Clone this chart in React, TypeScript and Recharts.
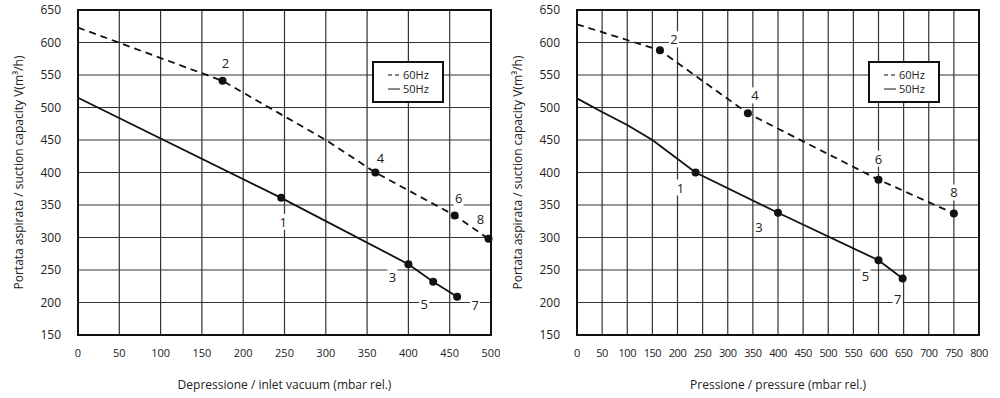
import React from "react";
import {
  LineChart,
  Line,
  XAxis,
  YAxis,
  CartesianGrid,
  ReferenceArea,
  Legend,
} from "recharts";

// axis ticks
const Y_TICKS = [150, 200, 250, 300, 350, 400, 450, 500, 550, 600, 650];
const VAC_TICKS = [0, 50, 100, 150, 200, 250, 300, 350, 400, 450, 500];
const PRS_TICKS = [0, 50, 100, 150, 200, 250, 300, 350, 400, 450, 500, 550, 600, 650, 700, 750, 800];

// left: inlet vacuum
const VAC_X_60 = [0, 175, 300, 360, 456, 497];
const VAC_Y_60 = [623, 541, 450, 400, 334, 298];
const VAC_LBL_60 = ["", "2", "", "4", "6", "8"];
const VAC_X_50 = [0, 246, 400, 430, 459];
const VAC_Y_50 = [515, 361, 259, 232, 209];
const VAC_LBL_50 = ["", "1", "3", "5", "7"];

// right: pressure
const PRS_X_60 = [0, 165, 340, 600, 750];
const PRS_Y_60 = [628, 588, 491, 389, 337];
const PRS_LBL_60 = ["", "2", "4", "6", "8"];
const PRS_X_50 = [0, 50, 100, 150, 236, 400, 600, 648];
const PRS_Y_50 = [514, 493, 473, 450, 400, 338, 265, 237];
const PRS_LBL_50 = ["", "", "", "", "1", "3", "5", "7"];

const Y_TITLE = "Portata aspirata / suction capacity V(m³/h)";
const LEGEND_ORDER = ["60Hz", "50Hz"];

// label offsets from the dot (px)
const VAC_OFFSETS: Record<string, number[]> = {
  "1": [2, 24], "2": [3, -18], "3": [-16, 13], "4": [5, -15],
  "5": [-9, 22], "6": [4, -17], "7": [18, 8], "8": [-8, -20],
};
const PRS_OFFSETS: Record<string, number[]> = {
  "1": [-15, 15], "2": [14, -11], "3": [-19, 14], "4": [7, -18],
  "5": [-13, 16], "6": [0, -21], "7": [-5, 21], "8": [0, -21],
};

const DASH: Record<string, string | undefined> = { "60Hz": "4 3", "50Hz": undefined };
const INK = "#111";

const rows = (xs: number[], ys: number[], lbls: string[]) =>
  xs.map((x, i) => ({ x, y: ys[i], label: lbls[i] }));

const makeDot = (offsets: Record<string, number[]>) => (props: any) => {
  const { cx, cy, payload, index } = props;
  if (!payload.label) return <g key={index} />;
  const [dx, dy] = offsets[payload.label];
  return (
    <g key={index}>
      <circle cx={cx} cy={cy} r={4} fill={INK} />
      <rect x={cx + dx - 5} y={cy + dy - 8} width={10} height={16} fill="#fff" />
      <text
        x={cx + dx}
        y={cy + dy}
        textAnchor="middle"
        dominantBaseline="central"
        fontSize={13}
        fill="#222"
      >
        {payload.label}
      </text>
    </g>
  );
};

const LegendBox = ({ payload }: any) => {
  const items = [...(payload || [])].sort(
    (a: any, b: any) => LEGEND_ORDER.indexOf(a.value) - LEGEND_ORDER.indexOf(b.value)
  );
  return (
    <div
      style={{
        border: "2px solid #111",
        background: "#fff",
        width: 72,
        height: 42,
        boxSizing: "border-box",
        display: "flex",
        flexDirection: "column",
        justifyContent: "center",
        paddingLeft: 14,
        fontSize: 11,
        lineHeight: "14px",
        color: "#222",
      }}
    >
      {items.map((p: any) => (
        <div key={p.value} style={{ display: "flex", alignItems: "center" }}>
          <svg width={15} height={8}>
            <line x1={0} y1={4} x2={12} y2={4} stroke={INK} strokeWidth={1} strokeDasharray={DASH[p.value]} />
          </svg>
          <span>{p.value}</span>
        </div>
      ))}
    </div>
  );
};

function Panel(props: {
  xMax: number;
  xTicks: number[];
  xTitle: string;
  data60: any[];
  data50: any[];
  offsets: Record<string, number[]>;
  margin: any;
  xTickStyle: any;
  legendLeft: number;
}) {
  const dot = makeDot(props.offsets);
  return (
    <LineChart width={500} height={398} margin={props.margin}>
      <CartesianGrid stroke="#333" strokeWidth={1.2} />
      <XAxis
        type="number"
        dataKey="x"
        domain={[0, props.xMax]}
        ticks={props.xTicks}
        interval={0}
        axisLine={false}
        tickLine={false}
        tickSize={0}
        tickMargin={14}
        height={63}
        tick={props.xTickStyle}
        label={{ value: props.xTitle, position: "insideBottom", offset: 9, fontSize: 12, fill: "#222" }}
      />
      <YAxis
        type="number"
        domain={[150, 650]}
        ticks={Y_TICKS}
        interval={0}
        axisLine={false}
        tickLine={false}
        tickSize={0}
        tickMargin={17}
        width={60}
        tick={{ fontSize: 12, fill: "#222" }}
        label={{
          value: Y_TITLE,
          angle: -90,
          position: "insideLeft",
          offset: 1,
          fontSize: 12,
          fill: "#222",
          style: { textAnchor: "middle" },
        }}
      />
      <ReferenceArea x1={0} x2={props.xMax} y1={150} y2={650} fill="none" stroke={INK} strokeWidth={2} />
      <Line
        name="60Hz"
        data={props.data60}
        dataKey="y"
        stroke={INK}
        strokeWidth={1.8}
        strokeDasharray="7 5"
        dot={dot}
        activeDot={false}
        isAnimationActive={false}
      />
      <Line
        name="50Hz"
        data={props.data50}
        dataKey="y"
        stroke={INK}
        strokeWidth={1.8}
        dot={dot}
        activeDot={false}
        isAnimationActive={false}
      />
      <Legend
        layout="horizontal"
        verticalAlign="middle"
        align="center"
        content={<LegendBox />}
        wrapperStyle={{ left: props.legendLeft, top: 61, width: 72, height: 42 }}
      />
    </LineChart>
  );
}

export default function App() {
  return (
    <div
      style={{
        position: "absolute",
        left: 0,
        top: 0,
        width: 1000,
        height: 398,
        background: "#fff",
        display: "flex",
        fontFamily: "'Open Sans', sans-serif",
      }}
    >
      <Panel
        xMax={500}
        xTicks={VAC_TICKS}
        xTitle="Depressione / inlet vacuum (mbar rel.)"
        data60={rows(VAC_X_60, VAC_Y_60, VAC_LBL_60)}
        data50={rows(VAC_X_50, VAC_Y_50, VAC_LBL_50)}
        offsets={VAC_OFFSETS}
        margin={{ top: 10, right: 9, bottom: 0, left: 18 }}
        xTickStyle={{ fontSize: 11, fill: "#222" }}
        legendLeft={372}
      />
      <Panel
        xMax={800}
        xTicks={PRS_TICKS}
        xTitle="Pressione / pressure (mbar rel.)"
        data60={rows(PRS_X_60, PRS_Y_60, PRS_LBL_60)}
        data50={rows(PRS_X_50, PRS_Y_50, PRS_LBL_50)}
        offsets={PRS_OFFSETS}
        margin={{ top: 10, right: 21, bottom: 0, left: 17 }}
        xTickStyle={{ fontSize: 11, fill: "#222", letterSpacing: -0.5 }}
        legendLeft={368}
      />
    </div>
  );
}
